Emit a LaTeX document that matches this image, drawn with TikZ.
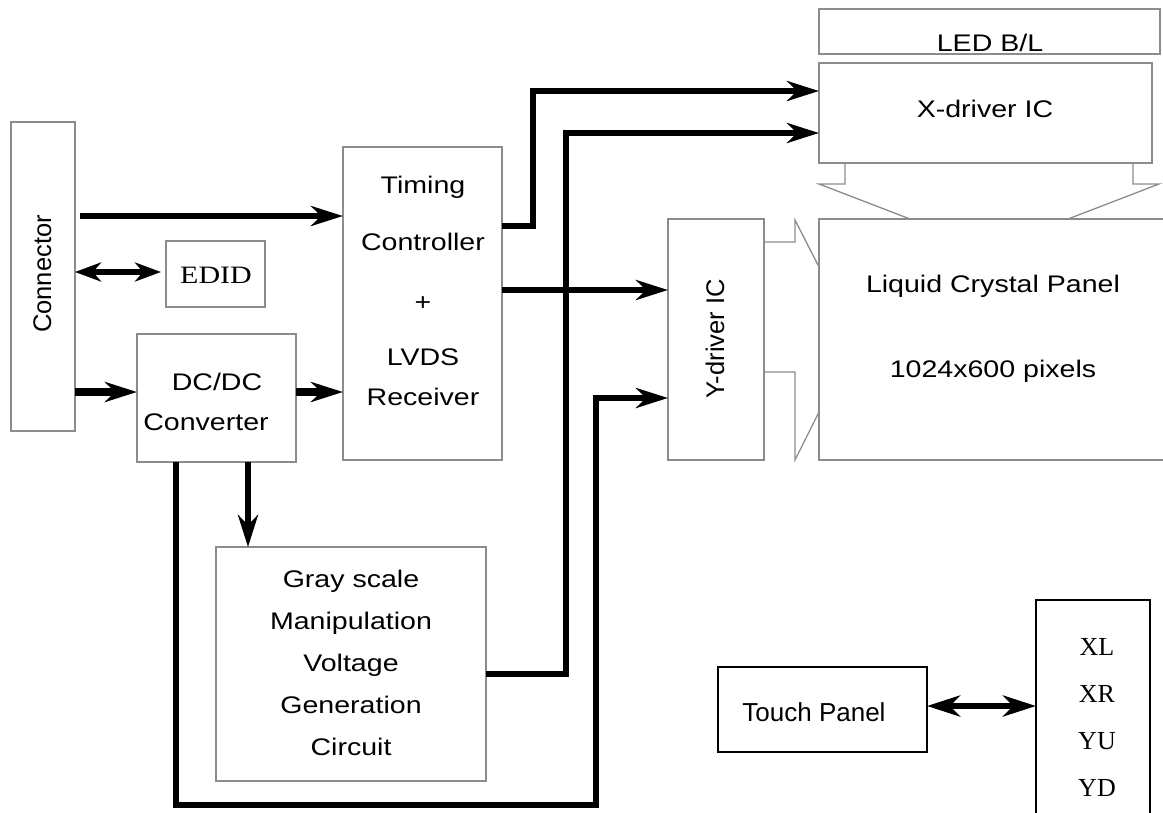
\documentclass[tikz,border=0pt]{standalone}
\usepackage{fontspec}
\setmainfont{Liberation Sans}[FakeStretch=1.19]
\newfontfamily\plainsans{Liberation Sans}
\newfontfamily\serifwide{Liberation Serif}[FakeStretch=1.2]
\newfontfamily\serifplain{Liberation Serif}
\usetikzlibrary{arrows.meta}
\definecolor{boxgray}{gray}{0.55}
\tikzset{
  box/.style={draw=boxgray, line width=1.3pt, inner sep=0pt, outer sep=0pt},
  blackbox/.style={draw=black, line width=1.5pt, inner sep=0pt, outer sep=0pt},
  lbl/.style={inner sep=0pt, text height=17pt, text depth=0pt, font=\fontsize{24}{28}\selectfont},
  rlbl/.style={inner sep=0pt, text height=18pt, text depth=0pt, rotate=90, font=\plainsans\fontsize{25.5}{30}\selectfont},
  pin/.style={inner sep=0pt, text height=17pt, text depth=0pt, font=\serifplain\fontsize{26}{30}\selectfont},
  sig/.style={line width=6pt, -{Stealth[length=32pt,width=20pt,inset=10pt]}},
  sigb/.style={line width=7.5pt, -{Stealth[length=32pt,width=20pt,inset=10pt]}},
  dsig/.style={line width=6pt, {Stealth[length=26pt,width=19pt,inset=8pt]}-{Stealth[length=26pt,width=19pt,inset=8pt]}},
  tsig/.style={line width=6pt, {Stealth[length=33pt,width=21pt,inset=10pt]}-{Stealth[length=33pt,width=21pt,inset=10pt]}},
  flex/.style={draw=boxgray, line width=1.3pt}
}
\begin{document}
\begin{tikzpicture}[x=1pt,y=-1pt]
\useasboundingbox (0,0) rectangle (1163,812);
\clip (0,0) rectangle (1163,812);
\fill[white] (0,0) rectangle (1163,812);

% boxes
\node[box, minimum width=64pt, minimum height=309pt] (conn) at (43,276.5) {};
\node[box, minimum width=99pt, minimum height=66pt] (edid) at (215.5,274) {};
\node[box, minimum width=159pt, minimum height=128pt] (dcdc) at (216.5,398) {};
\node[box, minimum width=159pt, minimum height=313pt] (tcon) at (422.5,303.5) {};
\node[box, minimum width=270pt, minimum height=234pt] (gray) at (351,664) {};
\node[box, minimum width=96pt, minimum height=241pt] (ydrv) at (716,339.5) {};
\node[box, minimum width=341pt, minimum height=45pt] (led) at (989.5,31.5) {};
\node[box, minimum width=333pt, minimum height=100pt] (xdrv) at (985.5,113) {};
\node[box, minimum width=360pt, minimum height=241pt] (lcp) at (999,339.5) {};
\node[blackbox, minimum width=209pt, minimum height=85pt] (touch) at (822.5,709.5) {};
\node[blackbox, minimum width=114pt, minimum height=240pt] (tsig) at (1093,720) {};

% labels
\node[rlbl] (conn-t) at (42,274) {Connector};
\node[rlbl] (ydrv-t) at (715,339) {Y-driver IC};
\node[lbl, font=\serifwide\fontsize{25}{30}\selectfont] (edid-t) at (216,275) {EDID};
\node[lbl] (dcdc-t1) at (217,382) {DC/DC};
\node[lbl] (dcdc-t2) at (206,422) {Converter};
\node[lbl] (tcon-t1) at (423,185) {Timing};
\node[lbl] (tcon-t2) at (423,242) {Controller};
\node[lbl] (tcon-t3) at (423,302) {+};
\node[lbl] (tcon-t4) at (423,357) {LVDS};
\node[lbl] (tcon-t5) at (423,397) {Receiver};
\node[lbl] (gray-t1) at (351,579) {Gray scale};
\node[lbl] (gray-t2) at (351,621) {Manipulation};
\node[lbl] (gray-t3) at (351,663) {Voltage};
\node[lbl] (gray-t4) at (351,705) {Generation};
\node[lbl] (gray-t5) at (351,747) {Circuit};
\node[lbl] (led-t) at (990,43) {LED B/L};
\node[lbl] (xdrv-t) at (985,109) {X-driver IC};
\node[lbl] (lcp-t1) at (993,284) {Liquid Crystal Panel};
\node[lbl] (lcp-t2) at (993,369) {1024x600 pixels};
\node[lbl, font=\plainsans\fontsize{26}{30}\selectfont, text height=19pt] (touch-t) at (814,712) {Touch Panel};
\node[pin] (tsig-t1) at (1097,647) {XL};
\node[pin] (tsig-t2) at (1097,694) {XR};
\node[pin] (tsig-t3) at (1097,741) {YU};
\node[pin] (tsig-t4) at (1097,788) {YD};

% flex connections driver -> panel
\draw[flex] (xdrv.south -| 845,0) -- (845,184) -- (819,184) -- (lcp.north -| 910,0);
\draw[flex] (xdrv.south -| 1133,0) -- (1133,184) -- (1159,184) -- (lcp.north -| 1068,0);
\draw[flex] (ydrv.east |- 0,242) -- (795,242) -- (795,220) -- (lcp.west |- 0,267);
\draw[flex] (ydrv.east |- 0,372) -- (795,372) -- (795,460) -- (lcp.west |- 0,412);

% signal arrows
\draw[sig] ([xshift=5pt]conn.east |- 0,216) -- (tcon.west |- 0,216);
\draw[dsig] (conn.east |- 0,272) -- ([xshift=-5pt]edid.west |- 0,272);
\draw[sigb] (conn.east |- 0,392) -- (dcdc.west |- 0,392);
\draw[sigb] (dcdc.east |- 0,392) -- (tcon.west |- 0,392);
\draw[sig] (tcon.east |- 0,226) -| (533,91) -- (xdrv.west |- 0,91);
\draw[sig] (gray.east |- 0,674) -| (566,133) -- (xdrv.west |- 0,133);
\draw[sig] (tcon.east |- 0,290) -- (ydrv.west |- 0,290);
\draw[sig] (dcdc.south -| 248,0) -- (gray.north -| 248,0);
\draw[sig] (dcdc.south -| 176,0) |- (596,805) |- (ydrv.west |- 0,398);
\draw[tsig] (touch.east |- 0,706) -- (tsig.west |- 0,706);
\end{tikzpicture}
\end{document}
